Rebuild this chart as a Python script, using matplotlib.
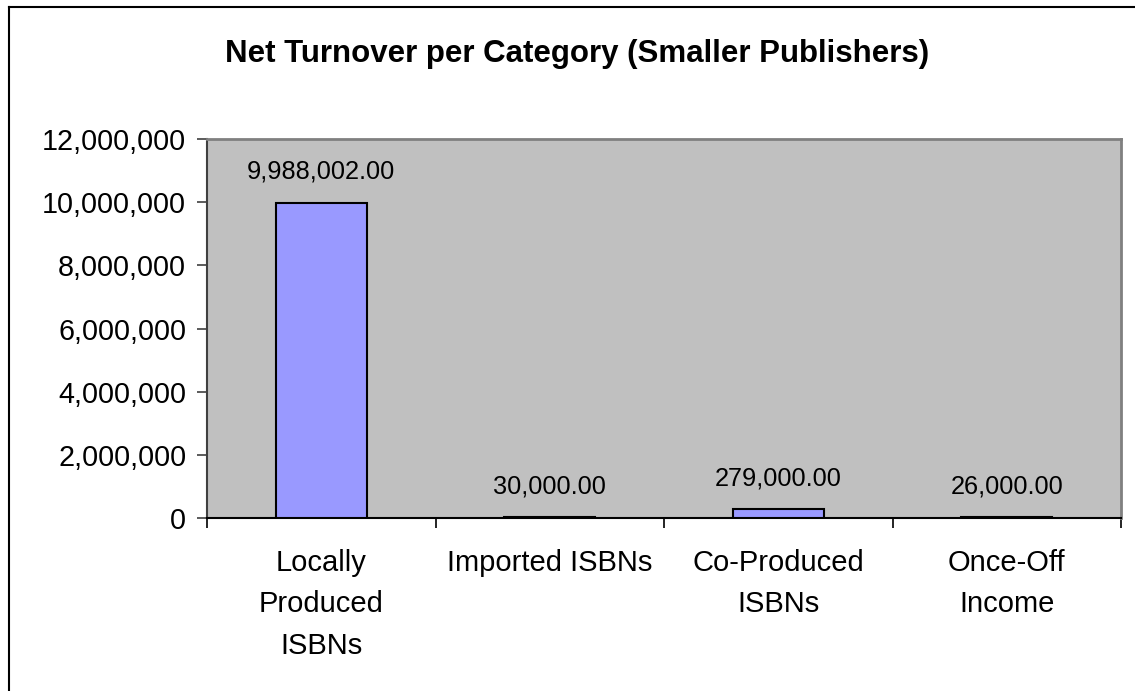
import matplotlib.pyplot as plt
from matplotlib.lines import Line2D
from matplotlib.ticker import FuncFormatter

categories = ["Locally\nProduced\nISBNs", "Imported ISBNs", "Co-Produced\nISBNs", "Once-Off\nIncome"]
turnover = [9988002.00, 30000.00, 279000.00, 26000.00]
y_ticks = [0, 2000000, 4000000, 6000000, 8000000, 10000000, 12000000]

plt.rcParams["font.family"] = ["Liberation Sans", "DejaVu Sans"]

fig = plt.figure(figsize=(11.35, 6.91), dpi=100)
ax = fig.add_axes([207 / 1135, 1 - 518 / 691, (1121 - 207) / 1135, (518 - 139) / 691])

x = list(range(len(categories)))
ax.bar(x, turnover, width=0.4, color="#9999FF", edgecolor="black", linewidth=1.5, zorder=3)

for xi, v in zip(x, turnover):
    ax.annotate(f"{v:,.2f}", (xi, v), xytext=(0, 22), textcoords="offset points",
                ha="center", va="center", fontsize=18.3)

ax.set_facecolor("#C0C0C0")
ax.set_xlim(-0.5, len(categories) - 0.5)
ax.set_ylim(0, 12000000)
ax.set_yticks(y_ticks)
ax.yaxis.set_major_formatter(FuncFormatter(lambda v, p: f"{v:,.0f}"))
ax.tick_params(axis="y", labelsize=20.7, length=7, width=1.2, color="#404040", pad=8)

# category ticks sit on the slot boundaries, labels in the middle
ax.set_xticks([i + 0.5 for i in range(-1, len(categories))])
ax.set_xticklabels([])
ax.set_xticks(x, minor=True)
ax.set_xticklabels(categories, minor=True, fontsize=21, linespacing=1.63)
ax.tick_params(axis="x", which="major", length=7, width=1.2, color="black")
ax.tick_params(axis="x", which="minor", length=0, pad=22)

ax.spines["top"].set_color("#808080")
ax.spines["right"].set_color("#808080")
ax.spines["top"].set_linewidth(2)
ax.spines["right"].set_linewidth(2)
ax.spines["left"].set_color("#404040")
ax.spines["left"].set_linewidth(1.5)
ax.spines["bottom"].set_color("black")
ax.spines["bottom"].set_linewidth(1.5)

fig.text(577 / 1135, 1 - 54 / 691, "Net Turnover per Category (Smaller Publishers)",
         ha="center", va="center", fontsize=22.5, fontweight="bold")

# chart frame, left and top edges
fig.add_artist(Line2D([9 / 1135, 9 / 1135], [0, 1 - 7 / 691], color="black", linewidth=1.5))
fig.add_artist(Line2D([9 / 1135, 1], [1 - 7 / 691, 1 - 7 / 691], color="black", linewidth=1.5))

plt.savefig("out.png", dpi=100)
